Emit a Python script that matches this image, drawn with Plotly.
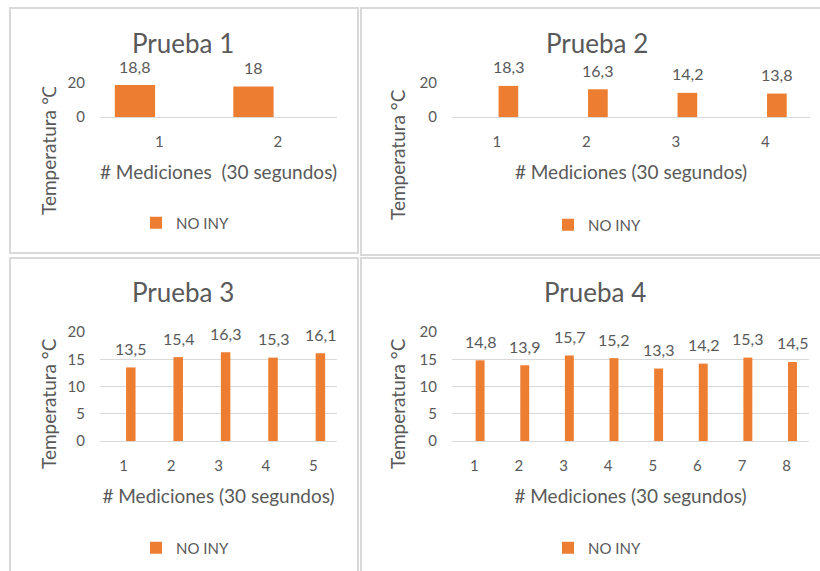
import plotly.graph_objects as go

# Temperature readings (°C) per test, one value per 30-second measurement
prueba_1 = [18.8, 18.0]
prueba_2 = [18.3, 16.3, 14.2, 13.8]
prueba_3 = [13.5, 15.4, 16.3, 15.3, 16.1]
prueba_4 = [14.8, 13.9, 15.7, 15.2, 13.3, 14.2, 15.3, 14.5]

titles = ["Prueba 1", "Prueba 2", "Prueba 3", "Prueba 4"]
x_titles = ["# Mediciones\u00a0 (30 segundos)", "# Mediciones (30 segundos)",
            "# Mediciones (30 segundos)", "# Mediciones (30 segundos)"]
y_titles = ["Temperatura \u2103", "Temperatura °C", "Temperatura °C", "Temperatura °C"]
series_name = "NO INY"

W, H = 820, 571
ORANGE = "#ED7D31"
GRID = "#D9D9D9"
TEXT = "#595959"
FONT = "Lato"


def fx(px):
    return px / W


def fy(px):
    return 1 - px / H


# Panel layout in pixels: plot box, title / y-title / legend positions, tick step,
# and bar width / centre shift inside each category (in category units)
panels = [
    dict(data=prueba_1, box=(100, 337, 83, 117), title=(183, 43), ytitle=(48, 151),
         legend=(136, 223), dtick=20, width=0.34, shift=-0.205),
    dict(data=prueba_2, box=(452, 810, 83, 117), title=(597, 43), ytitle=(397, 155),
         legend=(548, 225), dtick=20, width=0.22, shift=0.13),
    dict(data=prueba_3, box=(100, 337, 332, 441), title=(183, 292), ytitle=(48, 404),
         legend=(136, 548), dtick=5, width=0.2, shift=0.15),
    dict(data=prueba_4, box=(452, 809, 332, 441), title=(595, 292), ytitle=(397, 404),
         legend=(548, 548), dtick=5, width=0.2, shift=0.13),
]

fig = go.Figure()
annotations = []
layout_axes = {}

for i, p in enumerate(panels):
    n = i + 1
    sfx = "" if n == 1 else str(n)
    xa, ya = f"x{sfx}", f"y{sfx}"
    leg = "legend" if n == 1 else f"legend{n}"
    vals = p["data"]
    cats = list(range(1, len(vals) + 1))

    fig.add_trace(go.Bar(
        x=cats, y=vals, name=series_name,
        width=p["width"], offset=p["shift"] - p["width"] / 2,
        marker=dict(color=ORANGE, line=dict(width=0)),
        xaxis=xa, yaxis=ya, legend=leg, showlegend=True,
    ))

    # value labels above each bar
    for c, v in zip(cats, vals):
        annotations.append(dict(
            x=c + p["shift"], y=v, xref=xa, yref=ya,
            text=f"{v:g}".replace(".", ","), showarrow=False,
            yanchor="middle", yshift=19,
            font=dict(family=FONT, size=16, color=TEXT),
        ))

    # chart title
    tx, ty = p["title"]
    annotations.append(dict(
        x=fx(tx), y=fy(ty), xref="paper", yref="paper", text=titles[i],
        showarrow=False, xanchor="center", yanchor="middle",
        font=dict(family=FONT, size=26, color=TEXT),
    ))

    # vertical axis title, centred on the whole chart rather than the plot box
    vx, vy = p["ytitle"]
    annotations.append(dict(
        x=fx(vx), y=fy(vy), xref="paper", yref="paper", text=y_titles[i],
        showarrow=False, xanchor="center", yanchor="middle", textangle=-90,
        font=dict(family=FONT, size=19, color=TEXT),
    ))

    x0, x1, y0, y1 = p["box"]
    layout_axes[f"xaxis{sfx}"] = dict(
        domain=[fx(x0), fx(x1)], anchor=ya, range=[0.5, len(vals) + 0.5],
        tickmode="array", tickvals=cats, ticktext=[str(c) for c in cats],
        showgrid=False, zeroline=False, showline=False, ticks="",
        ticklabelstandoff=14, automargin=False,
        tickfont=dict(family=FONT, size=15, color=TEXT),
        title=dict(text=x_titles[i], standoff=16,
                   font=dict(family=FONT, size=19, color=TEXT)),
        fixedrange=True,
    )
    layout_axes[f"yaxis{sfx}"] = dict(
        domain=[fy(y1), fy(y0)], anchor=xa, range=[0, 20], dtick=p["dtick"],
        showgrid=True, gridcolor=GRID, gridwidth=1,
        zeroline=True, zerolinecolor=GRID, zerolinewidth=1,
        showline=False, ticks="", ticklabelstandoff=14, automargin=False,
        tickfont=dict(family=FONT, size=15, color=TEXT),
        fixedrange=True,
    )
    lx, ly = p["legend"]
    layout_axes[leg] = dict(
        x=fx(lx), y=fy(ly), xanchor="left", yanchor="middle",
        orientation="h", bgcolor="rgba(0,0,0,0)",
        font=dict(family=FONT, size=15, color=TEXT),
    )

# light grey frames around each chart
frame = dict(type="rect", xref="paper", yref="paper",
             line=dict(color=GRID, width=2), fillcolor="rgba(0,0,0,0)", layer="below")
shapes = [
    dict(frame, x0=fx(10), x1=fx(358), y0=fy(253), y1=fy(8)),
    dict(frame, x0=fx(361), x1=fx(830), y0=fy(255), y1=fy(8)),
    dict(frame, x0=fx(10), x1=fx(358), y0=fy(590), y1=fy(258)),
    dict(frame, x0=fx(361), x1=fx(830), y0=fy(590), y1=fy(258)),
]

fig.update_layout(
    width=W, height=H,
    margin=dict(l=0, r=0, t=0, b=0, autoexpand=False),
    paper_bgcolor="white", plot_bgcolor="white",
    font=dict(family=FONT, color=TEXT),
    annotations=annotations, shapes=shapes,
    **layout_axes,
)

fig.write_html("out.html")
